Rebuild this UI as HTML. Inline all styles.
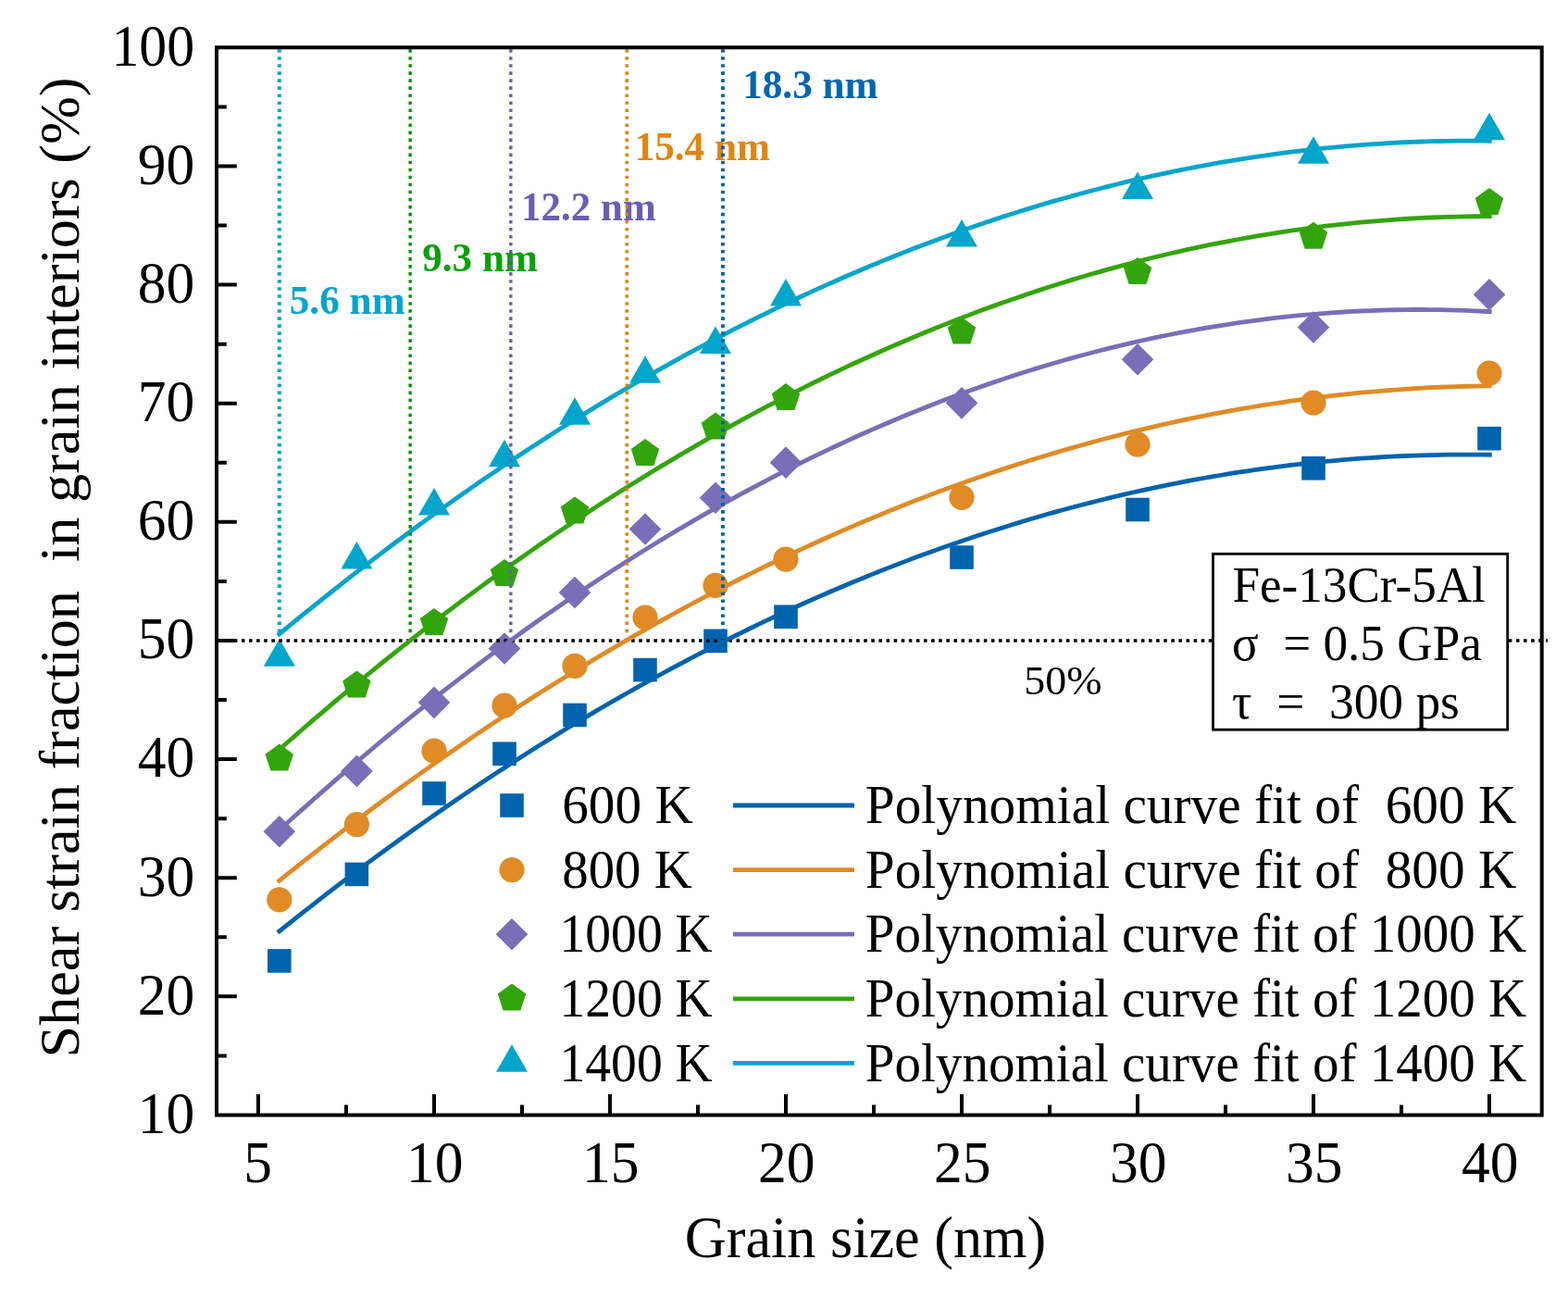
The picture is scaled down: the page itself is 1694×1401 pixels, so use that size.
<!DOCTYPE html>
<html><head><meta charset="utf-8"><title>Shear strain fraction vs grain size</title><style>html,body{margin:0;padding:0;background:#fff;overflow:hidden}svg{display:block}</style></head>
<body>
<svg width="1694" height="1401" viewBox="0 0 1694 1401" font-family="Liberation Serif, serif">
<rect width="1694" height="1401" fill="#fff"/>
<rect x="289.00" y="1025.13" width="25.6" height="25.6" fill="#0063ae"/>
<rect x="372.60" y="931.60" width="25.6" height="25.6" fill="#0063ae"/>
<rect x="456.20" y="844.21" width="25.6" height="25.6" fill="#0063ae"/>
<rect x="532.20" y="801.42" width="25.6" height="25.6" fill="#0063ae"/>
<rect x="608.20" y="759.65" width="25.6" height="25.6" fill="#0063ae"/>
<rect x="684.20" y="710.83" width="25.6" height="25.6" fill="#0063ae"/>
<rect x="760.20" y="679.56" width="25.6" height="25.6" fill="#0063ae"/>
<rect x="836.20" y="653.43" width="25.6" height="25.6" fill="#0063ae"/>
<rect x="1026.20" y="589.23" width="25.6" height="25.6" fill="#0063ae"/>
<rect x="1216.20" y="537.72" width="25.6" height="25.6" fill="#0063ae"/>
<rect x="1406.20" y="493.01" width="25.6" height="25.6" fill="#0063ae"/>
<rect x="1596.20" y="460.85" width="25.6" height="25.6" fill="#0063ae"/>
<circle cx="301.80" cy="971.94" r="13.6" fill="#e08b26"/>
<circle cx="385.40" cy="890.58" r="13.6" fill="#e08b26"/>
<circle cx="469.00" cy="811.14" r="13.6" fill="#e08b26"/>
<circle cx="545.00" cy="762.20" r="13.6" fill="#e08b26"/>
<circle cx="621.00" cy="719.40" r="13.6" fill="#e08b26"/>
<circle cx="697.00" cy="666.99" r="13.6" fill="#e08b26"/>
<circle cx="773.00" cy="632.40" r="13.6" fill="#e08b26"/>
<circle cx="849.00" cy="604.08" r="13.6" fill="#e08b26"/>
<circle cx="1039.00" cy="537.33" r="13.6" fill="#e08b26"/>
<circle cx="1229.00" cy="480.05" r="13.6" fill="#e08b26"/>
<circle cx="1419.00" cy="435.08" r="13.6" fill="#e08b26"/>
<circle cx="1609.00" cy="403.05" r="13.6" fill="#e08b26"/>
<path d="M301.80 880.97L319.10 898.27L301.80 915.57L284.50 898.27Z" fill="#7a6eb8"/>
<path d="M385.40 815.62L402.70 832.92L385.40 850.22L368.10 832.92Z" fill="#7a6eb8"/>
<path d="M469.00 741.56L486.30 758.86L469.00 776.16L451.70 758.86Z" fill="#7a6eb8"/>
<path d="M545.00 683.26L562.30 700.56L545.00 717.86L527.70 700.56Z" fill="#7a6eb8"/>
<path d="M621.00 622.66L638.30 639.96L621.00 657.26L603.70 639.96Z" fill="#7a6eb8"/>
<path d="M697.00 554.24L714.30 571.54L697.00 588.84L679.70 571.54Z" fill="#7a6eb8"/>
<path d="M773.00 520.41L790.30 537.71L773.00 555.01L755.70 537.71Z" fill="#7a6eb8"/>
<path d="M849.00 482.36L866.30 499.66L849.00 516.96L831.70 499.66Z" fill="#7a6eb8"/>
<path d="M1039.00 418.04L1056.30 435.34L1039.00 452.64L1021.70 435.34Z" fill="#7a6eb8"/>
<path d="M1229.00 371.01L1246.30 388.31L1229.00 405.61L1211.70 388.31Z" fill="#7a6eb8"/>
<path d="M1419.00 336.16L1436.30 353.46L1419.00 370.76L1401.70 353.46Z" fill="#7a6eb8"/>
<path d="M1609.00 300.92L1626.30 318.22L1609.00 335.52L1591.70 318.22Z" fill="#7a6eb8"/>
<polygon points="301.80,803.59 317.02,814.64 311.20,832.53 292.40,832.53 286.58,814.64" fill="#33a50c"/>
<polygon points="385.40,724.53 400.62,735.59 394.80,753.48 376.00,753.48 370.18,735.59" fill="#33a50c"/>
<polygon points="469.00,657.01 484.22,668.06 478.40,685.95 459.60,685.95 453.78,668.06" fill="#33a50c"/>
<polygon points="545.00,604.09 560.22,615.15 554.40,633.03 535.60,633.03 529.78,615.15" fill="#33a50c"/>
<polygon points="621.00,536.56 636.22,547.62 630.40,565.51 611.60,565.51 605.78,547.62" fill="#33a50c"/>
<polygon points="697.00,474.04 712.22,485.09 706.40,502.98 687.60,502.98 681.78,485.09" fill="#33a50c"/>
<polygon points="773.00,445.59 788.22,456.65 782.40,474.54 763.60,474.54 757.78,456.65" fill="#33a50c"/>
<polygon points="849.00,414.07 864.22,425.13 858.40,443.02 839.60,443.02 833.78,425.13" fill="#33a50c"/>
<polygon points="1039.00,342.58 1054.22,353.63 1048.40,371.52 1029.60,371.52 1023.78,353.63" fill="#33a50c"/>
<polygon points="1229.00,278.00 1244.22,289.05 1238.40,306.94 1219.60,306.94 1213.78,289.05" fill="#33a50c"/>
<polygon points="1419.00,239.82 1434.22,250.87 1428.40,268.76 1409.60,268.76 1403.78,250.87" fill="#33a50c"/>
<polygon points="1609.00,203.04 1624.22,214.10 1618.40,231.99 1599.60,231.99 1593.78,214.10" fill="#33a50c"/>
<polygon points="301.80,690.30 318.80,719.80 284.80,719.80" fill="#00a5cc"/>
<polygon points="385.40,584.98 402.40,614.48 368.40,614.48" fill="#00a5cc"/>
<polygon points="469.00,526.93 486.00,556.43 452.00,556.43" fill="#00a5cc"/>
<polygon points="545.00,474.78 562.00,504.28 528.00,504.28" fill="#00a5cc"/>
<polygon points="621.00,429.30 638.00,458.80 604.00,458.80" fill="#00a5cc"/>
<polygon points="697.00,384.20 714.00,413.70 680.00,413.70" fill="#00a5cc"/>
<polygon points="773.00,352.55 790.00,382.05 756.00,382.05" fill="#00a5cc"/>
<polygon points="849.00,301.04 866.00,330.54 832.00,330.54" fill="#00a5cc"/>
<polygon points="1039.00,237.10 1056.00,266.60 1022.00,266.60" fill="#00a5cc"/>
<polygon points="1229.00,185.60 1246.00,215.10 1212.00,215.10" fill="#00a5cc"/>
<polygon points="1419.00,147.16 1436.00,176.66 1402.00,176.66" fill="#00a5cc"/>
<polygon points="1609.00,121.79 1626.00,151.29 1592.00,151.29" fill="#00a5cc"/>
<line x1="236" y1="691.98" x2="1672" y2="691.98" stroke="#000" stroke-width="3.4" stroke-dasharray="3.6 4.5" stroke-dashoffset="-0.6"/>
<polyline points="299.90,1007.41 309.34,999.85 318.77,992.36 328.21,984.92 337.65,977.53 347.09,970.20 356.52,962.93 365.96,955.71 375.40,948.55 384.83,941.44 394.27,934.39 403.71,927.40 413.15,920.46 422.58,913.57 432.02,906.74 441.46,899.97 450.89,893.25 460.33,886.59 469.77,879.99 479.21,873.44 488.64,866.94 498.08,860.50 507.52,854.12 516.95,847.79 526.39,841.52 535.83,835.30 545.27,829.14 554.70,823.04 564.14,816.99 573.58,810.99 583.01,805.05 592.45,799.17 601.89,793.34 611.33,787.57 620.76,781.86 630.20,776.20 639.64,770.59 649.07,765.04 658.51,759.55 667.95,754.11 677.38,748.73 686.82,743.40 696.26,738.13 705.70,732.92 715.13,727.76 724.57,722.65 734.01,717.61 743.44,712.61 752.88,707.68 762.32,702.79 771.76,697.97 781.19,693.20 790.63,688.48 800.07,683.83 809.50,679.22 818.94,674.67 828.38,670.18 837.82,665.75 847.25,661.37 856.69,657.04 866.13,652.77 875.56,648.56 885.00,644.40 894.44,640.30 903.88,636.25 913.31,632.26 922.75,628.32 932.19,624.44 941.62,620.62 951.06,616.85 960.50,613.14 969.94,609.48 979.37,605.88 988.81,602.33 998.25,598.84 1007.68,595.40 1017.12,592.02 1026.56,588.70 1036.00,585.43 1045.43,582.22 1054.87,579.06 1064.31,575.96 1073.74,572.92 1083.18,569.93 1092.62,566.99 1102.06,564.11 1111.49,561.29 1120.93,558.52 1130.37,555.81 1139.80,553.15 1149.24,550.55 1158.68,548.01 1168.12,545.52 1177.55,543.08 1186.99,540.71 1196.43,538.38 1205.86,536.12 1215.30,533.91 1224.74,531.75 1234.18,529.65 1243.61,527.61 1253.05,525.62 1262.49,523.68 1271.92,521.81 1281.36,519.98 1290.80,518.22 1300.23,516.51 1309.67,514.85 1319.11,513.25 1328.55,511.71 1337.98,510.22 1347.42,508.79 1356.86,507.41 1366.29,506.09 1375.73,504.83 1385.17,503.62 1394.61,502.46 1404.04,501.36 1413.48,500.32 1422.92,499.33 1432.35,498.40 1441.79,497.53 1451.23,496.70 1460.67,495.94 1470.10,495.23 1479.54,494.58 1488.98,493.98 1498.41,493.44 1507.85,492.95 1517.29,492.52 1526.73,492.14 1536.16,491.82 1545.60,491.56 1555.04,491.35 1564.47,491.20 1573.91,491.10 1583.35,491.06 1592.79,491.07 1602.22,491.14 1611.66,491.27" fill="none" stroke="#0063ae" stroke-width="4.8" stroke-linejoin="round"/>
<polyline points="299.90,952.81 309.34,945.22 318.77,937.68 328.21,930.20 337.65,922.77 347.09,915.39 356.52,908.07 365.96,900.80 375.40,893.59 384.83,886.43 394.27,879.32 403.71,872.27 413.15,865.27 422.58,858.33 432.02,851.44 441.46,844.61 450.89,837.83 460.33,831.10 469.77,824.43 479.21,817.81 488.64,811.25 498.08,804.74 507.52,798.28 516.95,791.88 526.39,785.53 535.83,779.24 545.27,773.00 554.70,766.81 564.14,760.68 573.58,754.61 583.01,748.58 592.45,742.62 601.89,736.70 611.33,730.84 620.76,725.04 630.20,719.28 639.64,713.59 649.07,707.94 658.51,702.35 667.95,696.82 677.38,691.34 686.82,685.91 696.26,680.54 705.70,675.22 715.13,669.96 724.57,664.75 734.01,659.59 743.44,654.49 752.88,649.44 762.32,644.45 771.76,639.51 781.19,634.62 790.63,629.79 800.07,625.01 809.50,620.29 818.94,615.62 828.38,611.01 837.82,606.45 847.25,601.94 856.69,597.49 866.13,593.09 875.56,588.74 885.00,584.45 894.44,580.22 903.88,576.04 913.31,571.91 922.75,567.84 932.19,563.82 941.62,559.85 951.06,555.94 960.50,552.09 969.94,548.28 979.37,544.53 988.81,540.84 998.25,537.20 1007.68,533.61 1017.12,530.08 1026.56,526.61 1036.00,523.18 1045.43,519.81 1054.87,516.50 1064.31,513.24 1073.74,510.03 1083.18,506.88 1092.62,503.78 1102.06,500.73 1111.49,497.74 1120.93,494.81 1130.37,491.93 1139.80,489.10 1149.24,486.32 1158.68,483.60 1168.12,480.94 1177.55,478.33 1186.99,475.77 1196.43,473.27 1205.86,470.82 1215.30,468.42 1224.74,466.08 1234.18,463.80 1243.61,461.56 1253.05,459.39 1262.49,457.26 1271.92,455.19 1281.36,453.18 1290.80,451.21 1300.23,449.31 1309.67,447.45 1319.11,445.66 1328.55,443.91 1337.98,442.22 1347.42,440.58 1356.86,439.00 1366.29,437.47 1375.73,436.00 1385.17,434.58 1394.61,433.21 1404.04,431.90 1413.48,430.64 1422.92,429.44 1432.35,428.29 1441.79,427.19 1451.23,426.15 1460.67,425.17 1470.10,424.23 1479.54,423.35 1488.98,422.53 1498.41,421.76 1507.85,421.04 1517.29,420.38 1526.73,419.77 1536.16,419.22 1545.60,418.72 1555.04,418.27 1564.47,417.88 1573.91,417.55 1583.35,417.26 1592.79,417.03 1602.22,416.86 1611.66,416.74" fill="none" stroke="#e08b26" stroke-width="4.8" stroke-linejoin="round"/>
<polyline points="299.90,898.44 309.34,889.84 318.77,881.31 328.21,872.85 337.65,864.46 347.09,856.13 356.52,847.86 365.96,839.67 375.40,831.53 384.83,823.47 394.27,815.47 403.71,807.53 413.15,799.67 422.58,791.86 432.02,784.13 441.46,776.46 450.89,768.85 460.33,761.32 469.77,753.84 479.21,746.44 488.64,739.10 498.08,731.82 507.52,724.62 516.95,717.47 526.39,710.40 535.83,703.39 545.27,696.44 554.70,689.57 564.14,682.75 573.58,676.01 583.01,669.33 592.45,662.71 601.89,656.16 611.33,649.68 620.76,643.27 630.20,636.92 639.64,630.63 649.07,624.41 658.51,618.26 667.95,612.17 677.38,606.15 686.82,600.20 696.26,594.31 705.70,588.49 715.13,582.73 724.57,577.04 734.01,571.42 743.44,565.86 752.88,560.37 762.32,554.94 771.76,549.58 781.19,544.28 790.63,539.06 800.07,533.89 809.50,528.80 818.94,523.77 828.38,518.80 837.82,513.90 847.25,509.07 856.69,504.30 866.13,499.60 875.56,494.97 885.00,490.40 894.44,485.90 903.88,481.46 913.31,477.09 922.75,472.78 932.19,468.54 941.62,464.37 951.06,460.26 960.50,456.22 969.94,452.25 979.37,448.34 988.81,444.50 998.25,440.72 1007.68,437.01 1017.12,433.36 1026.56,429.78 1036.00,426.27 1045.43,422.82 1054.87,419.44 1064.31,416.13 1073.74,412.88 1083.18,409.70 1092.62,406.58 1102.06,403.53 1111.49,400.54 1120.93,397.62 1130.37,394.77 1139.80,391.98 1149.24,389.26 1158.68,386.61 1168.12,384.02 1177.55,381.49 1186.99,379.04 1196.43,376.64 1205.86,374.32 1215.30,372.06 1224.74,369.87 1234.18,367.74 1243.61,365.68 1253.05,363.68 1262.49,361.75 1271.92,359.89 1281.36,358.09 1290.80,356.36 1300.23,354.69 1309.67,353.09 1319.11,351.56 1328.55,350.09 1337.98,348.69 1347.42,347.36 1356.86,346.09 1366.29,344.88 1375.73,343.74 1385.17,342.67 1394.61,341.67 1404.04,340.73 1413.48,339.85 1422.92,339.05 1432.35,338.30 1441.79,337.63 1451.23,337.02 1460.67,336.47 1470.10,336.00 1479.54,335.58 1488.98,335.24 1498.41,334.96 1507.85,334.74 1517.29,334.60 1526.73,334.51 1536.16,334.50 1545.60,334.55 1555.04,334.66 1564.47,334.85 1573.91,335.09 1583.35,335.41 1592.79,335.79 1602.22,336.23 1611.66,336.75" fill="none" stroke="#7a6eb8" stroke-width="4.8" stroke-linejoin="round"/>
<polyline points="299.90,811.25 309.34,802.96 318.77,794.73 328.21,786.55 337.65,778.44 347.09,770.39 356.52,762.40 365.96,754.46 375.40,746.59 384.83,738.78 394.27,731.02 403.71,723.33 413.15,715.70 422.58,708.12 432.02,700.61 441.46,693.16 450.89,685.77 460.33,678.43 469.77,671.16 479.21,663.95 488.64,656.79 498.08,649.70 507.52,642.66 516.95,635.69 526.39,628.78 535.83,621.92 545.27,615.13 554.70,608.40 564.14,601.72 573.58,595.11 583.01,588.56 592.45,582.06 601.89,575.63 611.33,569.25 620.76,562.94 630.20,556.69 639.64,550.49 649.07,544.36 658.51,538.28 667.95,532.27 677.38,526.32 686.82,520.42 696.26,514.59 705.70,508.81 715.13,503.10 724.57,497.44 734.01,491.85 743.44,486.31 752.88,480.84 762.32,475.42 771.76,470.07 781.19,464.78 790.63,459.54 800.07,454.37 809.50,449.25 818.94,444.20 828.38,439.20 837.82,434.27 847.25,429.39 856.69,424.58 866.13,419.82 875.56,415.13 885.00,410.49 894.44,405.92 903.88,401.40 913.31,396.94 922.75,392.55 932.19,388.21 941.62,383.94 951.06,379.72 960.50,375.57 969.94,371.47 979.37,367.44 988.81,363.46 998.25,359.54 1007.68,355.69 1017.12,351.89 1026.56,348.16 1036.00,344.48 1045.43,340.87 1054.87,337.31 1064.31,333.81 1073.74,330.38 1083.18,327.00 1092.62,323.69 1102.06,320.43 1111.49,317.23 1120.93,314.10 1130.37,311.02 1139.80,308.00 1149.24,305.05 1158.68,302.15 1168.12,299.31 1177.55,296.54 1186.99,293.82 1196.43,291.16 1205.86,288.57 1215.30,286.03 1224.74,283.55 1234.18,281.14 1243.61,278.78 1253.05,276.48 1262.49,274.25 1271.92,272.07 1281.36,269.95 1290.80,267.90 1300.23,265.90 1309.67,263.96 1319.11,262.08 1328.55,260.27 1337.98,258.51 1347.42,256.81 1356.86,255.18 1366.29,253.60 1375.73,252.08 1385.17,250.62 1394.61,249.23 1404.04,247.89 1413.48,246.61 1422.92,245.39 1432.35,244.23 1441.79,243.14 1451.23,242.10 1460.67,241.12 1470.10,240.20 1479.54,239.35 1488.98,238.55 1498.41,237.81 1507.85,237.13 1517.29,236.51 1526.73,235.96 1536.16,235.46 1545.60,235.02 1555.04,234.64 1564.47,234.32 1573.91,234.06 1583.35,233.87 1592.79,233.73 1602.22,233.65 1611.66,233.63" fill="none" stroke="#33a50c" stroke-width="4.8" stroke-linejoin="round"/>
<polyline points="299.90,686.42 309.34,678.62 318.77,670.88 328.21,663.20 337.65,655.58 347.09,648.01 356.52,640.50 365.96,633.05 375.40,625.65 384.83,618.31 394.27,611.03 403.71,603.81 413.15,596.64 422.58,589.53 432.02,582.48 441.46,575.48 450.89,568.55 460.33,561.67 469.77,554.84 479.21,548.08 488.64,541.37 498.08,534.72 507.52,528.13 516.95,521.59 526.39,515.11 535.83,508.69 545.27,502.33 554.70,496.02 564.14,489.77 573.58,483.58 583.01,477.44 592.45,471.36 601.89,465.34 611.33,459.38 620.76,453.48 630.20,447.63 639.64,441.84 649.07,436.10 658.51,430.43 667.95,424.81 677.38,419.25 686.82,413.74 696.26,408.29 705.70,402.90 715.13,397.57 724.57,392.30 734.01,387.08 743.44,381.92 752.88,376.81 762.32,371.77 771.76,366.78 781.19,361.85 790.63,356.97 800.07,352.16 809.50,347.40 818.94,342.69 828.38,338.05 837.82,333.46 847.25,328.93 856.69,324.46 866.13,320.04 875.56,315.68 885.00,311.38 894.44,307.14 903.88,302.95 913.31,298.82 922.75,294.75 932.19,290.74 941.62,286.78 951.06,282.88 960.50,279.04 969.94,275.25 979.37,271.52 988.81,267.85 998.25,264.24 1007.68,260.68 1017.12,257.19 1026.56,253.74 1036.00,250.36 1045.43,247.03 1054.87,243.76 1064.31,240.55 1073.74,237.40 1083.18,234.30 1092.62,231.26 1102.06,228.27 1111.49,225.35 1120.93,222.48 1130.37,219.67 1139.80,216.92 1149.24,214.22 1158.68,211.58 1168.12,209.00 1177.55,206.47 1186.99,204.01 1196.43,201.60 1205.86,199.24 1215.30,196.95 1224.74,194.71 1234.18,192.53 1243.61,190.41 1253.05,188.34 1262.49,186.33 1271.92,184.38 1281.36,182.49 1290.80,180.65 1300.23,178.87 1309.67,177.15 1319.11,175.48 1328.55,173.88 1337.98,172.32 1347.42,170.83 1356.86,169.40 1366.29,168.02 1375.73,166.70 1385.17,165.43 1394.61,164.23 1404.04,163.08 1413.48,161.99 1422.92,160.95 1432.35,159.97 1441.79,159.05 1451.23,158.19 1460.67,157.39 1470.10,156.64 1479.54,155.95 1488.98,155.31 1498.41,154.74 1507.85,154.22 1517.29,153.76 1526.73,153.35 1536.16,153.01 1545.60,152.72 1555.04,152.48 1564.47,152.31 1573.91,152.19 1583.35,152.13 1592.79,152.13 1602.22,152.18 1611.66,152.30" fill="none" stroke="#00a5cc" stroke-width="4.8" stroke-linejoin="round"/>
<text transform="translate(312.67,338.92) scale(0.9905,1)" font-size="43.70" font-weight="bold" fill="#00a5cc">5.6 nm</text>
<text transform="translate(456.20,292.77) scale(0.9887,1)" font-size="43.70" font-weight="bold" fill="#08a008">9.3 nm</text>
<text transform="translate(563.06,238.30) scale(0.9835,1)" font-size="43.70" font-weight="bold" fill="#6a5eb4">12.2 nm</text>
<text transform="translate(685.64,172.65) scale(0.9884,1)" font-size="43.70" font-weight="bold" fill="#e0860f">15.4 nm</text>
<text transform="translate(802.14,106.28) scale(0.9891,1)" font-size="43.70" font-weight="bold" fill="#0066b0">18.3 nm</text>
<line x1="301.80" y1="53.2" x2="301.80" y2="684.5" stroke="#00a5cc" stroke-width="4.0" stroke-dasharray="3.6 4.43"/>
<line x1="443.16" y1="53.2" x2="443.16" y2="684.5" stroke="#0a900a" stroke-width="3.4" stroke-dasharray="3.6 4.43"/>
<line x1="551.84" y1="53.2" x2="551.84" y2="684.5" stroke="#6a5eb4" stroke-width="3.4" stroke-dasharray="3.6 4.43"/>
<line x1="677.24" y1="53.2" x2="677.24" y2="684.5" stroke="#e08000" stroke-width="3.4" stroke-dasharray="3.6 4.43"/>
<line x1="780.98" y1="53.2" x2="780.98" y2="684.5" stroke="#0060ac" stroke-width="3.8" stroke-dasharray="3.6 4.43"/>
<g stroke="#000" stroke-width="4" fill="none">
<rect x="234" y="51.3" width="1431.7" height="1153.2"/>
<path d="M234 1076.37H255.8 M234 948.24H255.8 M234 820.11H255.8 M234 691.98H255.8 M234 563.85H255.8 M234 435.72H255.8 M234 307.59H255.8 M234 179.46H255.8 M234 1140.43H244.8 M234 1012.30H244.8 M234 884.17H244.8 M234 756.04H244.8 M234 627.91H244.8 M234 499.78H244.8 M234 371.65H244.8 M234 243.52H244.8 M234 115.39H244.8 M279.00 1204.5V1182 M469.00 1204.5V1182 M659.00 1204.5V1182 M849.00 1204.5V1182 M1039.00 1204.5V1182 M1229.00 1204.5V1182 M1419.00 1204.5V1182 M1609.00 1204.5V1182 M374.00 1204.5V1193.6 M564.00 1204.5V1193.6 M754.00 1204.5V1193.6 M944.00 1204.5V1193.6 M1134.00 1204.5V1193.6 M1324.00 1204.5V1193.6 M1514.00 1204.5V1193.6"/>
</g>
<text transform="translate(148.66,1223.88) scale(0.9793,1)" font-size="62.80">10</text>
<text transform="translate(148.66,1095.75) scale(0.9793,1)" font-size="62.80">20</text>
<text transform="translate(148.66,967.62) scale(0.9793,1)" font-size="62.80">30</text>
<text transform="translate(148.66,839.49) scale(0.9793,1)" font-size="62.80">40</text>
<text transform="translate(148.66,711.36) scale(0.9793,1)" font-size="62.80">50</text>
<text transform="translate(148.66,583.23) scale(0.9793,1)" font-size="62.80">60</text>
<text transform="translate(148.66,455.10) scale(0.9793,1)" font-size="62.80">70</text>
<text transform="translate(148.66,326.97) scale(0.9793,1)" font-size="62.80">80</text>
<text transform="translate(148.66,198.84) scale(0.9793,1)" font-size="62.80">90</text>
<text transform="translate(120.39,71.03) scale(0.9522,1)" font-size="62.80">100</text>
<text transform="translate(263.21,1276.82) scale(0.9793,1)" font-size="62.80">5</text>
<text transform="translate(439.06,1276.82) scale(0.9793,1)" font-size="62.80">10</text>
<text transform="translate(629.07,1276.82) scale(0.9793,1)" font-size="62.80">15</text>
<text transform="translate(819.07,1276.82) scale(0.9793,1)" font-size="62.80">20</text>
<text transform="translate(1009.07,1276.82) scale(0.9793,1)" font-size="62.80">25</text>
<text transform="translate(1199.07,1276.82) scale(0.9793,1)" font-size="62.80">30</text>
<text transform="translate(1389.07,1276.82) scale(0.9793,1)" font-size="62.80">35</text>
<text transform="translate(1579.07,1276.82) scale(0.9793,1)" font-size="62.80">40</text>
<text transform="translate(739.81,1357.70) scale(0.9823,1)" font-size="63.33">Grain size (nm)</text>
<text transform="translate(85.48,1142.46) rotate(-90) scale(1.0116,1)" font-size="61.52">Shear strain fraction&#160; in grain interiors (%)</text>
<text transform="translate(1106.24,750.10) scale(1.0167,1)" font-size="45.22">50%</text>
<rect x="1310.5" y="598.3" width="318.2" height="189.9" fill="#fff" stroke="#000" stroke-width="2.8"/>
<text transform="translate(1331.51,649.74) scale(0.9840,1)" font-size="54.00">Fe-13Cr-5Al</text>
<text transform="translate(1330.97,712.86) scale(0.9849,1)" font-size="54.00">σ&#160; = 0.5 GPa</text>
<text transform="translate(1331.03,775.98) scale(0.9886,1)" font-size="54.00">τ&#160; =&#160; 300 ps</text>
<rect x="540.20" y="857.20" width="25.6" height="25.6" fill="#0063ae"/>
<text transform="translate(607.21,889.20) scale(0.9790,1)" font-size="58.50">600 K</text>
<line x1="792" y1="870.0" x2="923" y2="870.0" stroke="#0063ae" stroke-width="4.8"/>
<text transform="translate(934.78,889.20) scale(0.9798,1)" font-size="58.50">Polynomial curve fit of&#160; 600 K</text>
<circle cx="553.00" cy="939.60" r="13.6" fill="#e08b26"/>
<text transform="translate(607.23,958.80) scale(0.9720,1)" font-size="58.50">800 K</text>
<line x1="792" y1="939.6" x2="923" y2="939.6" stroke="#e08b26" stroke-width="4.8"/>
<text transform="translate(934.78,958.80) scale(0.9798,1)" font-size="58.50">Polynomial curve fit of&#160; 800 K</text>
<path d="M553.00 991.90L570.30 1009.20L553.00 1026.50L535.70 1009.20Z" fill="#7a6eb8"/>
<text transform="translate(604.50,1028.40) scale(0.9506,1)" font-size="58.50">1000 K</text>
<line x1="792" y1="1009.2" x2="923" y2="1009.2" stroke="#7a6eb8" stroke-width="4.8"/>
<text transform="translate(934.79,1028.40) scale(0.9751,1)" font-size="58.50">Polynomial curve fit of 1000 K</text>
<polygon points="553.00,1062.53 568.22,1073.58 562.40,1091.47 543.60,1091.47 537.78,1073.58" fill="#33a50c"/>
<text transform="translate(604.50,1098.00) scale(0.9506,1)" font-size="58.50">1200 K</text>
<line x1="792" y1="1078.8" x2="923" y2="1078.8" stroke="#33a50c" stroke-width="4.8"/>
<text transform="translate(934.79,1098.00) scale(0.9751,1)" font-size="58.50">Polynomial curve fit of 1200 K</text>
<polygon points="553.00,1128.25 570.00,1157.75 536.00,1157.75" fill="#00a5cc"/>
<text transform="translate(604.50,1167.60) scale(0.9506,1)" font-size="58.50">1400 K</text>
<line x1="792" y1="1148.4" x2="923" y2="1148.4" stroke="#00a5cc" stroke-width="4.8"/>
<text transform="translate(934.79,1167.60) scale(0.9751,1)" font-size="58.50">Polynomial curve fit of 1400 K</text>
</svg>
</body></html>
